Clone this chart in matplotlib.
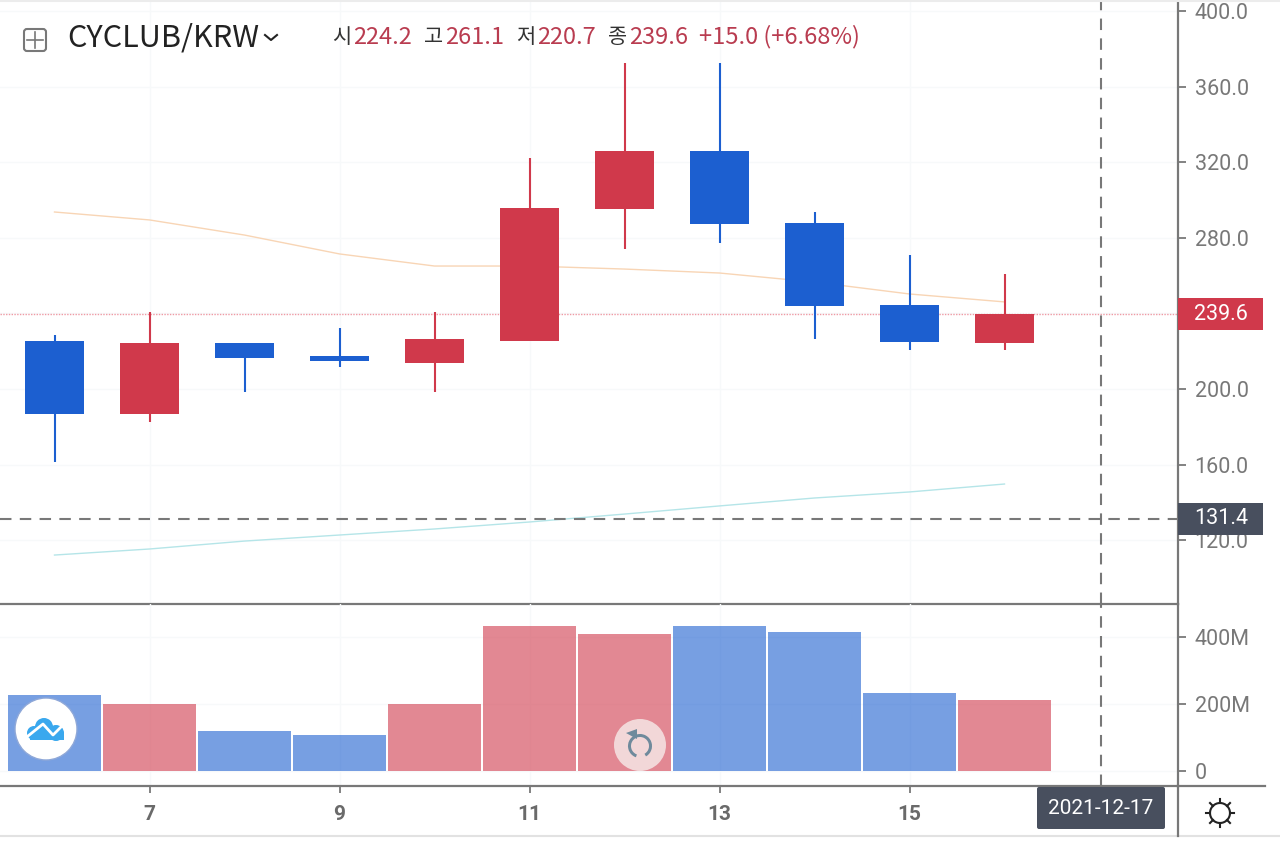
import matplotlib
matplotlib.use("Agg")
import matplotlib.pyplot as plt
from matplotlib.patches import Rectangle, Circle, FancyBboxPatch, Wedge, Polygon
from matplotlib.ticker import FuncFormatter

plt.rcParams['font.family'] = ['Roboto', 'Noto Sans CJK KR', 'DejaVu Sans']

# data
days = [6, 7, 8, 9, 10, 11, 12, 13, 14, 15, 16]
opens = [225.4, 186.8, 224.4, 217.5, 213.8, 225.4, 295.3, 326.0, 287.9, 244.5, 224.2]
closes = [186.8, 224.4, 216.4, 214.8, 226.5, 295.8, 326.0, 287.3, 243.9, 224.9, 239.6]
highs = [228.6, 240.8, 224.4, 232.3, 240.8, 322.3, 372.6, 372.6, 293.7, 270.9, 261.1]
lows = [161.4, 182.5, 198.4, 211.6, 198.4, 225.4, 274.1, 277.3, 226.5, 220.6, 220.7]
ma_orange = [293.7, 289.5, 281.5, 271.5, 265.1, 265.1, 263.5, 261.4, 256.6, 250.3, 246.1]
ma_teal = [112.1, 115.3, 119.5, 122.7, 125.9, 129.6, 133.8, 138.1, 142.3, 145.5, 149.7]
volume = [227, 200, 119, 107, 200, 433, 409, 433, 415, 233, 212]
price_ticks = [120, 160, 200, 240, 280, 320, 360, 400]
price_tick_labels = ['120.0', '160.0', '200.0', '', '280.0', '320.0', '360.0', '400.0']
volume_ticks = [0, 200, 400]
day_ticks = [7, 9, 11, 13, 15]
last_price = 239.6
cross_price = 131.4
cross_day = 17.02
cross_date = '2021-12-17'

RED = '#d0394b'
BLUE = '#1c5fd0'
GRAY = '#787878'
DARK = '#484f5e'
GRID = '#f7f9fa'

W, H = 1280, 852
fig = plt.figure(figsize=(12.8, 8.52), dpi=100, facecolor='white')


def px_axes(left, top, right, bottom):
    a = fig.add_axes([left / W, 1 - bottom / H, (right - left) / W, (bottom - top) / H])
    a.patch.set_visible(False)
    return a


ax = px_axes(0, 0, 1178, 604)
ax_vol = px_axes(0, 604, 1178, 786)

# 95 px per day, day 7 sits at x=150
xlim = (7 - 149.5 / 95, 7 + (1178 - 149.5) / 95)
ax.set_xlim(xlim)
ax_vol.set_xlim(xlim)
ax.set_ylim(200 - (604 - 389) / 1.889, 200 + 389 / 1.889)
ax_vol.set_ylim(-(786 - 771) / 0.335, (771 - 604) / 0.335)

for a in (ax, ax_vol):
    a.yaxis.tick_right()
    a.grid(color=GRID, linewidth=1)
    a.set_axisbelow(True)
    a.tick_params(axis='y', length=6, width=1.3, color=GRAY, labelcolor=GRAY, labelsize=15.5, pad=6)
    for s in ('top', 'left'):
        a.spines[s].set_visible(False)
    a.spines['right'].set_color(GRAY)
    a.spines['right'].set_linewidth(1.6)
    a.spines['bottom'].set_color(GRAY)
    a.spines['bottom'].set_linewidth(1.6)

ax.set_yticks(price_ticks)
ax.set_yticklabels(price_tick_labels)
ax.set_xticks(day_ticks)
ax.tick_params(axis='x', length=0, labelbottom=False)
ax_vol.set_yticks(volume_ticks)
ax_vol.yaxis.set_major_formatter(FuncFormatter(lambda v, p: '0' if v == 0 else '%dM' % v))
ax_vol.set_xticks(day_ticks)
ax_vol.tick_params(axis='x', length=5, width=1.3, color=GRAY, labelcolor='#6a6a6a', labelsize=15, pad=9)
for lab in ax_vol.get_xticklabels():
    lab.set_fontweight('bold')

# candles
for d, o, c, h, l in zip(days, opens, closes, highs, lows):
    col = RED if c >= o else BLUE
    ax.plot([d, d], [l, h], color=col, linewidth=1.5, solid_capstyle='butt', zorder=3)
    ax.bar(d, abs(c - o), bottom=min(o, c), width=0.625, color=col, zorder=4)

ax.plot(days, ma_orange, color='#f8d5b5', linewidth=1.0, zorder=2)
ax.plot(days, ma_teal, color='#b5e5e8', linewidth=1.0, zorder=2)

# last price and crosshair
ax.axhline(last_price, color='#ef9aa4', linewidth=1, linestyle=(0, (1, 1)), zorder=2)
ax.axhline(cross_price, color=GRAY, linewidth=1.5, linestyle=(0, (5.5, 4)), zorder=5)
for a in (ax, ax_vol):
    a.axvline(cross_day, color=GRAY, linewidth=1.5, linestyle=(0, (5.5, 4)), zorder=5)

# volume
vol_colors = [RED if c >= o else BLUE for o, c in zip(opens, closes)]
ax_vol.bar(days, volume, width=0.98, color=vol_colors, alpha=0.6, zorder=3)

# price tags on the axis
trans = ax.get_yaxis_transform()
for v, col in ((last_price, RED), (cross_price, DARK)):
    ax.add_patch(Rectangle((1, v - 16 / 1.889), 85 / 1178, 32 / 1.889, transform=trans,
                           facecolor=col, edgecolor='none', clip_on=False, zorder=6))
    ax.text(1 + 43 / 1178, v, '%.1f' % v, transform=trans, color='white', fontsize=15.5,
            ha='center', va='center', zorder=7, clip_on=False)

# overlay in pixel coordinates for header and icons
ov = fig.add_axes([0, 0, 1, 1], facecolor='none')
ov.set_xlim(0, W)
ov.set_ylim(H, 0)
ov.axis('off')

ov.plot([0, W], [1, 1], color='#ececec', linewidth=1.5)
ov.plot([0, W], [836, 836], color='#e2e2e2', linewidth=1.5)
ov.plot([1178, 1265], [786, 786], color=GRAY, linewidth=1.6)
ov.plot([1178, 1178], [786, 836], color=GRAY, linewidth=1.6)

# header
ov.add_patch(FancyBboxPatch((24, 29), 22, 22, boxstyle='round,pad=0,rounding_size=3',
                            facecolor='white', edgecolor=GRAY, linewidth=1.5))
ov.plot([35, 35], [32, 48], color=GRAY, linewidth=1.2)
ov.plot([27, 43], [40, 40], color=GRAY, linewidth=1.2)
ov.text(67, 38, 'CYCLUB/KRW', fontsize=22, color='#222222', va='center', ha='left',
        family=['Noto Sans CJK KR', 'DejaVu Sans'])
ov.plot([265, 271, 277], [35, 40, 35], color='#222222', linewidth=1.5)

header_labels = ['시', '고', '저', '종']
header_values = ['224.2', '261.1', '220.7', '239.6']
header_x = [332, 424, 516, 608]
for lx, lb, val in zip(header_x, header_labels, header_values):
    ov.text(lx, 37, lb, fontsize=15, color='#333333', va='center', ha='left',
            family=['Noto Sans CJK KR', 'DejaVu Sans'])
    ov.text(lx + 21, 37, val, fontsize=17, color='#b93c50', va='center', ha='left',
            family=['Noto Sans CJK KR', 'DejaVu Sans'])
ov.text(699, 37, '+15.0 (+6.68%)', fontsize=17, color='#b93c50', va='center', ha='left',
        family=['Noto Sans CJK KR', 'DejaVu Sans'])

# date tag
ov.add_patch(FancyBboxPatch((1037, 787), 128, 42, boxstyle='round,pad=0,rounding_size=2',
                            facecolor=DARK, edgecolor='none', zorder=6))
ov.text(1101, 808, cross_date, color='white', fontsize=15, ha='center', va='center', zorder=7)

# logo
ov.add_patch(Circle((46, 729), 31, facecolor='white', edgecolor='#8fa8d8', linewidth=1, zorder=6))
for cx, cy, r in ((34, 733, 7), (44, 727, 9), (56, 733, 8)):
    ov.add_patch(Circle((cx, cy), r, facecolor='#3aa8ee', edgecolor='none', zorder=7))
ov.add_patch(Rectangle((30, 732), 34, 8, facecolor='#3aa8ee', edgecolor='none', zorder=7))
ov.plot([28, 43, 53, 62], [736, 724, 735, 726], color='white', linewidth=2, zorder=8)

# reset button
ov.add_patch(Circle((640, 745), 26, facecolor='#f3dcdc', edgecolor='none', alpha=0.95, zorder=6))
ov.add_patch(Wedge((640, 746), 12, -250, 60, width=3, facecolor='#6f8a9c', edgecolor='none', zorder=7))
ov.add_patch(Polygon([[626, 733], [637, 729], [637, 739]], closed=True, facecolor='#6f8a9c', edgecolor='none', zorder=7))

# settings icon
ov.add_patch(Circle((1220, 813), 10, facecolor='white', edgecolor='#222222', linewidth=1.5, zorder=6))
for x0, y0, x1, y1 in ((1220, 799, 1220, 803), (1220, 823, 1220, 827), (1206, 813, 1210, 813),
                       (1230, 813, 1234, 813), (1210, 803, 1213, 806), (1227, 820, 1230, 823),
                       (1230, 803, 1227, 806), (1213, 820, 1210, 823)):
    ov.plot([x0, x1], [y0, y1], color='#222222', linewidth=1.5, zorder=6)

fig.savefig('out.png', dpi=100, facecolor='white')
